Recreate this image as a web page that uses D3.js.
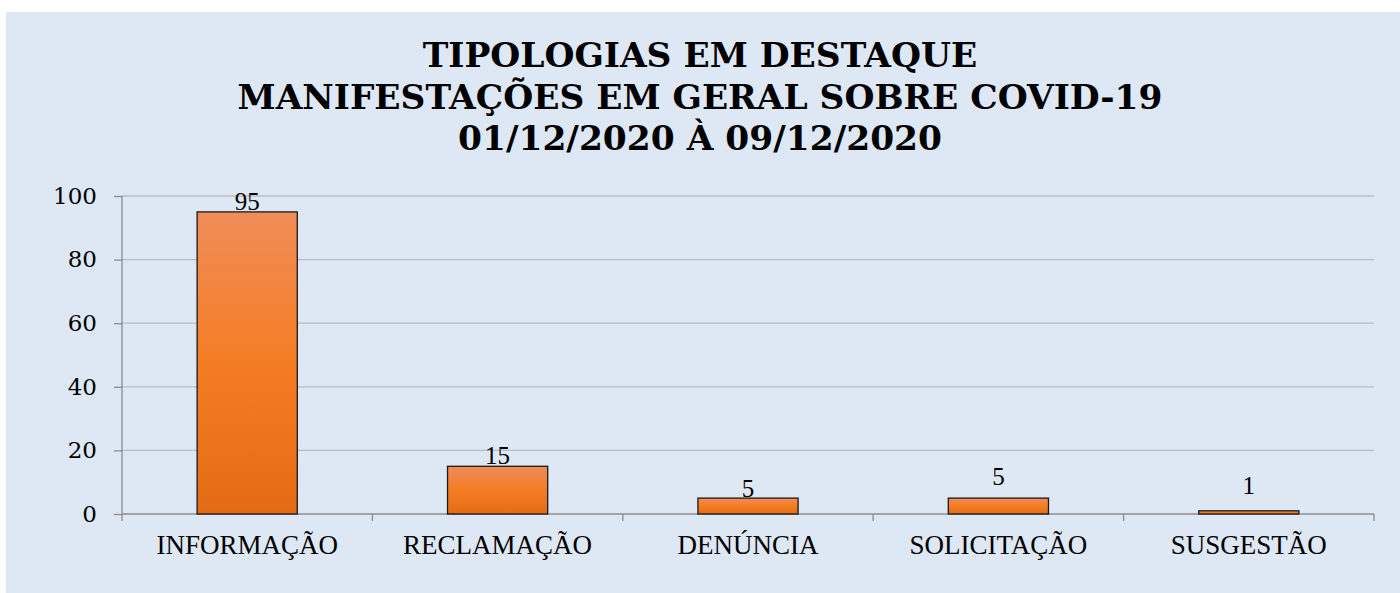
<!DOCTYPE html>
<html>
<head>
<meta charset="utf-8">
<script src="https://cdn.jsdelivr.net/npm/d3@7"></script>
<style>
  body { margin: 0; background: #fff; }
</style>
</head>
<body>
<div id="wrapper"></div>
<script>
// chart data
const titleLines = ["TIPOLOGIAS EM DESTAQUE", "MANIFESTAÇÕES EM GERAL SOBRE COVID-19", "01/12/2020 À 09/12/2020"]
const categories = ["INFORMAÇÃO", "RECLAMAÇÃO", "DENÚNCIA", "SOLICITAÇÃO", "SUSGESTÃO"]
const values = [95, 15, 5, 5, 1]
const yTicks = [0, 20, 40, 60, 80, 100]
// labels were nudged by hand in the original chart
const labelLift = [2, 2, 1, 13, 17]

function drawChart() {
    const width = 1400
    const height = 593
    let dimensions = {
        width: width,
        height: height,
        margin: { top: 196, right: 26, bottom: 79, left: 122 },
    }
    dimensions.boundedWidth = dimensions.width - dimensions.margin.left - dimensions.margin.right
    dimensions.boundedHeight = dimensions.height - dimensions.margin.top - dimensions.margin.bottom

    const wrapper = d3.select("#wrapper")
        .html("")
        .append("svg")
        .attr("width", dimensions.width)
        .attr("height", dimensions.height)

    // gradient for the bars
    const grad = wrapper.append("defs").append("linearGradient")
        .attr("id", "barGrad")
        .attr("x1", 0).attr("y1", 0).attr("x2", 0).attr("y2", 1)
    grad.append("stop").attr("offset", "0%").attr("stop-color", "#f08d58")
    grad.append("stop").attr("offset", "50%").attr("stop-color", "#f47d24")
    grad.append("stop").attr("offset", "100%").attr("stop-color", "#e36b15")

    wrapper.append("rect")
        .attr("x", 6)
        .attr("y", 12)
        .attr("width", dimensions.width - 6)
        .attr("height", dimensions.height - 12)
        .attr("fill", "#dde8f4")

    // title
    const title = wrapper.append("g")
    const titleText = title.selectAll("text")
        .data(titleLines)
        .enter()
        .append("text")
        .attr("x", dimensions.width / 2)
        .attr("y", (d, i) => 67 + i * 41.5)
        .attr("text-anchor", "middle")
        .attr("font-family", "'DejaVu Serif', serif")
        .attr("font-weight", "bold")
        .attr("font-size", "30px")
        .attr("fill", "#000")
        .text(d => d)
    // scale the font so the long line spans the same width as the original
    const longest = titleText.nodes()[1].getComputedTextLength()
    titleText.attr("font-size", (30 * 925 / longest) + "px")

    const bounds = wrapper.append("g")
        .attr("transform", `translate(${dimensions.margin.left},${dimensions.margin.top})`)

    const xScaler = d3.scaleBand()
        .domain(categories)
        .range([0, dimensions.boundedWidth])

    const yScaler = d3.scaleLinear()
        .domain([0, 100])
        .range([dimensions.boundedHeight, 0])

    // grid lines
    bounds.append("g")
        .selectAll("line")
        .data(yTicks.filter(d => d > 0))
        .enter()
        .append("line")
        .attr("x1", 0)
        .attr("x2", dimensions.boundedWidth)
        .attr("y1", d => yScaler(d))
        .attr("y2", d => yScaler(d))
        .attr("stroke", "#bcbcbc")
        .attr("stroke-width", 1.3)

    // y axis
    const yAxisGen = d3.axisLeft()
        .scale(yScaler)
        .tickValues(yTicks)
        .tickSize(8)
        .tickPadding(17)
    const yAxis = bounds.append("g")
        .call(yAxisGen)
    yAxis.select(".domain").remove()
    yAxis.selectAll(".tick line").attr("stroke", "#8c8c8c").attr("stroke-width", 1.3)
    yAxis.selectAll(".tick text")
        .attr("font-family", "'DejaVu Serif', serif")
        .attr("font-size", "23px")
        .attr("fill", "#000")
    yAxis.append("line")
        .attr("x1", 0).attr("x2", 0)
        .attr("y1", 0).attr("y2", dimensions.boundedHeight + 7)
        .attr("stroke", "#8c8c8c")
        .attr("stroke-width", 1.3)

    // x axis
    const xAxis = bounds.append("g")
        .attr("transform", `translate(0,${dimensions.boundedHeight})`)
    xAxis.append("line")
        .attr("x1", 0).attr("x2", dimensions.boundedWidth)
        .attr("stroke", "#8c8c8c")
        .attr("stroke-width", 1.3)
    xAxis.selectAll(".sep")
        .data(categories)
        .enter()
        .append("line")
        .attr("class", "sep")
        .attr("x1", d => xScaler(d) + xScaler.bandwidth())
        .attr("x2", d => xScaler(d) + xScaler.bandwidth())
        .attr("y1", 0)
        .attr("y2", 7)
        .attr("stroke", "#8c8c8c")
        .attr("stroke-width", 1.3)
    xAxis.selectAll(".cat")
        .data(categories)
        .enter()
        .append("text")
        .attr("class", "cat")
        .attr("x", d => xScaler(d) + xScaler.bandwidth() / 2)
        .attr("y", 40)
        .attr("text-anchor", "middle")
        .attr("font-family", "'Liberation Serif', serif")
        .attr("font-size", "27px")
        .attr("fill", "#000")
        .text(d => d)

    // bars
    const barW = xScaler.bandwidth() * 0.4
    bounds.append("g")
        .selectAll("rect")
        .data(values)
        .enter()
        .append("rect")
        .attr("x", (d, i) => xScaler(categories[i]) + (xScaler.bandwidth() - barW) / 2)
        .attr("y", d => yScaler(d))
        .attr("width", barW)
        .attr("height", d => dimensions.boundedHeight - yScaler(d))
        .attr("fill", "url(#barGrad)")
        .attr("stroke", "#1a1a1a")
        .attr("stroke-width", 1.3)

    // value labels
    bounds.append("g")
        .selectAll("text")
        .data(values)
        .enter()
        .append("text")
        .attr("x", (d, i) => xScaler(categories[i]) + xScaler.bandwidth() / 2)
        .attr("y", (d, i) => yScaler(d) - labelLift[i])
        .attr("text-anchor", "middle")
        .attr("font-family", "'Liberation Serif', serif")
        .attr("font-size", "25px")
        .attr("fill", "#000")
        .text(d => d)
}

drawChart()
</script>
</body>
</html>
